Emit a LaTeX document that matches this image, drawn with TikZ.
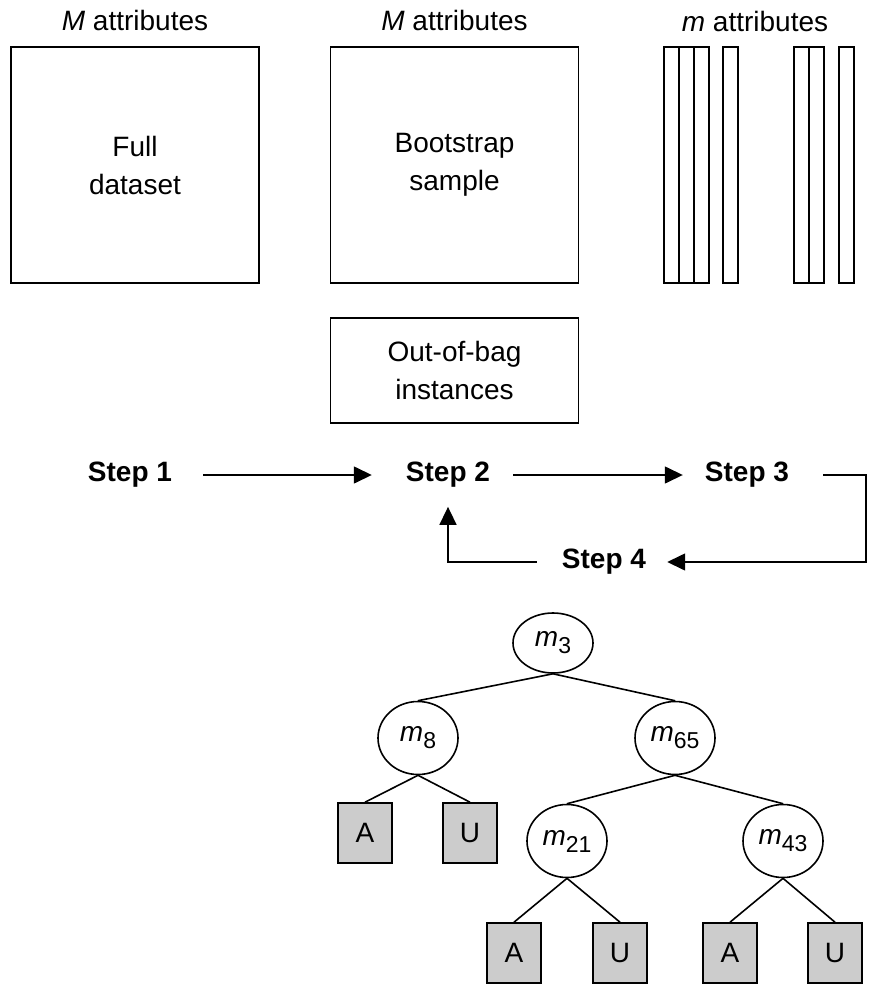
\documentclass[tikz,border=0pt]{standalone}
\usepackage{fontspec}
\setmainfont{Liberation Sans}
\usepackage{tikz}
\usetikzlibrary{shapes,arrows.meta,positioning}

\newcommand{\attr}[1]{\textit{m}\raisebox{-7pt}{\fontsize{23}{23}\selectfont #1}}

\begin{document}
\begin{tikzpicture}[
    x=1pt, y=-1pt,
    every node/.style={font=\fontsize{28}{38}\selectfont},
    box/.style={rectangle, draw, line width=1.8pt, minimum width=248pt, minimum height=236pt, align=center},
    strip/.style={draw, line width=1.6pt},
    title/.style={inner sep=0pt},
    steptext/.style={inner sep=0pt, font=\fontsize{28}{38}\selectfont\bfseries},
    arrow/.style={-{Triangle[length=18pt,width=17pt]}, line width=1.5pt},
    split/.style={ellipse, draw, line width=1.6pt, inner sep=0pt, minimum width=80pt, minimum height=73pt},
    leaf/.style={rectangle, draw, line width=1.6pt, fill=gray!40, minimum width=54pt, minimum height=60pt},
    edge/.style={line width=1.6pt}
]
    \useasboundingbox (0,0) rectangle (890,984);

    % data
    \node[box] (full) at (135,165) {Full\\dataset};
    \node[box] (boot) at (454.5,165) {Bootstrap\\sample};
    \node[box, minimum height=105pt] (oob) at (454.5,370.5) {Out-of-bag\\instances};
    \foreach \x in {664,679,694,723,794,809,839}
        \draw[strip] (\x,47) rectangle ++(15,236);

    \node[title, above=15pt of full] (fullattr) {\textit{M} attributes};
    \node[title, above=15pt of boot] (bootattr) {\textit{M} attributes};
    \node[title, anchor=base] (subattr) at (755,32) {\textit{m} attributes};

    % steps
    \node[steptext] (s1) at (130,475) {Step 1};
    \node[steptext] (s2) at (448,475) {Step 2};
    \node[steptext] (s3) at (747,475) {Step 3};
    \node[steptext] (s4) at (604,562) {Step 4};

    \draw[arrow, shorten <=31pt, shorten >=34pt] (s1) -- (s2);
    \draw[arrow, shorten <=23pt, shorten >=22pt] (s2) -- (s3);
    \draw[arrow, shorten <=34pt, shorten >=21pt] (s3.east) -- ++(77,0) |- (s4.east);
    \draw[arrow, shorten <=25pt, shorten >=19pt] (s4.west) -| (s2.south);

    % tree
    \node[split, minimum height=60pt] (m3) at (553,643) {\attr{3}};
    \node[split] (m8) at (418,738) {\attr{8}};
    \node[split] (m65) at (675,738) {\attr{65}};
    \node[split] (m21) at (567,841) {\attr{21}};
    \node[split] (m43) at (783,841) {\attr{43}};

    \node[leaf] (a1) at (365,833) {A};
    \node[leaf] (u1) at (470,833) {U};
    \node[leaf] (a2) at (514,953) {A};
    \node[leaf] (u2) at (620,953) {U};
    \node[leaf] (a3) at (730,953) {A};
    \node[leaf] (u3) at (835,953) {U};

    \draw[edge] (m3.south) -- (m8.north);
    \draw[edge] (m3.south) -- (m65.north);
    \draw[edge] (m8.south) -- (a1.north);
    \draw[edge] (m8.south) -- (u1.north);
    \draw[edge] (m65.south) -- (m21.north);
    \draw[edge] (m65.south) -- (m43.north);
    \draw[edge] (m21.south) -- (a2.north);
    \draw[edge] (m21.south) -- (u2.north);
    \draw[edge] (m43.south) -- (a3.north);
    \draw[edge] (m43.south) -- (u3.north);
\end{tikzpicture}
\end{document}
